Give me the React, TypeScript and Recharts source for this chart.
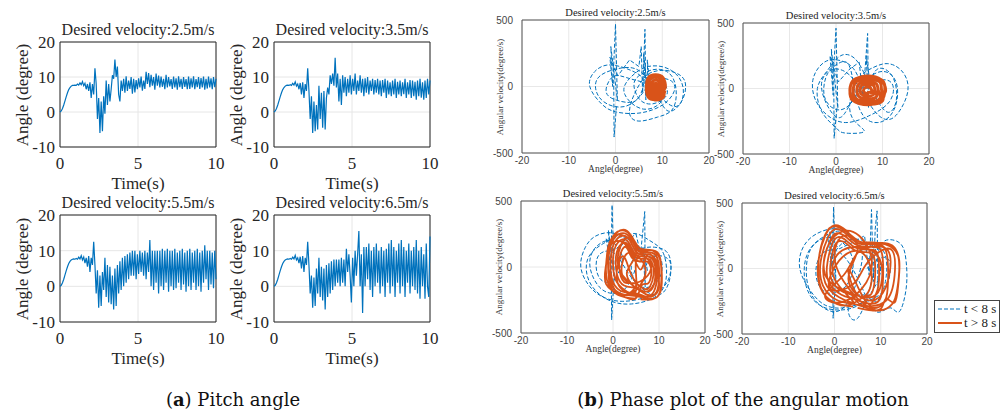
import { LineChart, Line, XAxis, YAxis, CartesianGrid, ReferenceArea } from 'recharts';

// pitch angle samples (degree), one every 0.08 s from 0 to 10 s
const SAMPLE_STEP = 0.08;

const pitch25 = [
  0, 0.3, 1.0, 2.0, 3.2, 4.4, 5.5, 6.4, 7.0, 7.4,
  7.6, 7.6, 7.7, 7.6, 8.0, 7.7, 8.3, 7.8, 8.7, 7.5,
  8.2, 6.5, 8.0, 6.0, 8.5, 4.0, 8.0, 5.0, 12.5, 8.0,
  -2.0, 4.0, -6.0, 3.0, -5.5, 4.5, -0.5, 9.0, 2.0, 8.0,
  3.0, 6.5, 10.5, 9.5, 15.0, 10.0, 13.0, 5.0, 3.0, 9.0,
  6.0, 9.5, 5.5, 10.2, 6.0, 9.0, 6.6, 10.0, 5.2, 9.5,
  5.6, 9.1, 6.5, 9.6, 7.0, 10.1, 6.1, 9.0, 6.6, 11.5,
  8.0, 11.1, 7.1, 10.6, 7.5, 10.0, 6.4, 11.0, 7.5, 10.4,
  7.0, 10.1, 7.2, 9.5, 6.5, 10.6, 7.0, 10.0, 7.3, 9.4,
  6.6, 10.1, 7.0, 9.6, 6.4, 10.2, 7.1, 9.5, 6.6, 10.0,
  7.2, 9.4, 6.5, 10.1, 6.6, 9.6, 7.0, 10.2, 6.5, 9.4,
  7.1, 10.0, 6.6, 9.7, 7.0, 10.1, 6.4, 9.5, 6.7, 10.1,
  7.0, 9.6, 6.5, 10.0, 7.1, 9.5,
];

const pitch35 = [
  0, 0.3, 1.0, 2.0, 3.2, 4.4, 5.5, 6.4, 7.0, 7.4,
  7.6, 7.7, 7.6, 7.8, 7.6, 8.2, 7.7, 8.6, 7.4, 8.0,
  6.5, 8.3, 5.0, 8.5, 4.0, 8.0, 6.0, 12.5, 6.0, -2.0,
  4.5, -6.0, 3.0, -5.5, 2.0, -5.0, 7.5, -2.0, 5.5, -4.5,
  6.0, -5.0, 4.0, 7.0, 5.0, 10.5, 8.0, 11.0, 7.5, 15.5,
  7.0, 11.0, 3.0, 9.5, 2.0, 10.5, 5.5, 10.0, 4.5, 9.5,
  5.5, 10.5, 5.0, 9.5, 6.0, 11.0, 5.0, 9.0, 6.0, 10.5,
  5.5, 9.5, 4.5, 9.6, 5.5, 10.0, 5.0, 9.0, 6.0, 9.5,
  5.0, 9.1, 5.5, 9.5, 5.0, 9.0, 4.5, 9.1, 5.5, 9.5,
  4.0, 9.0, 5.0, 8.5, 4.5, 9.0, 5.0, 9.5, 4.0, 8.6,
  5.0, 9.0, 4.5, 8.5, 5.1, 9.5, 4.0, 8.5, 5.0, 9.1,
  4.0, 9.0, 4.5, 8.6, 3.5, 9.0, 4.5, 9.5, 4.1, 8.5,
  3.5, 9.0, 4.0, 9.5, 5.0, 9.0,
];

const pitch55 = [
  0, 0.3, 1.0, 2.0, 3.2, 4.4, 5.5, 6.4, 7.0, 7.4,
  7.6, 7.7, 7.6, 7.8, 7.6, 8.2, 7.7, 8.6, 7.4, 8.2,
  6.5, 8.0, 5.5, 8.5, 4.0, 8.0, 6.0, 12.5, 6.0, -2.0,
  4.5, -6.0, 3.0, -5.5, 4.0, -1.0, 8.0, -3.0, 6.0, -4.5,
  5.5, -5.0, 3.0, -6.5, 5.0, -5.5, 6.0, -2.0, 7.0, -1.0,
  8.0, 0.0, 8.5, 1.0, 9.0, 2.0, 9.5, 3.0, 10.0, 3.0,
  10.0, 2.0, 9.0, 3.5, 10.0, 4.0, 9.5, 3.0, 10.0, 2.0,
  9.5, 4.0, 13.0, 0.0, 10.0, -1.0, 10.0, 1.0, 10.0, -2.0,
  10.0, 0.0, 10.5, -1.0, 10.0, 1.0, 10.5, -1.5, 10.0, 0.0,
  10.0, -1.0, 10.5, -0.5, 9.5, 1.0, 10.0, -1.0, 10.5, 0.5,
  9.5, -1.5, 10.0, 0.0, 10.5, -1.0, 9.5, 1.0, 10.0, -1.0,
  10.5, 0.0, 9.5, -1.5, 10.0, 1.0, 11.5, 2.0, 10.0, -1.0,
  10.0, 0.5, 9.5, -0.5, 10.0, 2.0,
];

const pitch65 = [
  0, 0.3, 1.0, 2.0, 3.2, 4.4, 5.5, 6.4, 7.0, 7.4,
  7.6, 7.7, 7.6, 7.8, 7.6, 8.2, 7.7, 8.7, 7.4, 8.0,
  6.5, 8.3, 5.0, 8.5, 4.0, 8.0, 6.0, 12.5, 6.0, -2.0,
  3.0, -6.0, 2.5, -5.5, 5.0, -2.0, 8.0, -3.0, 5.5, -4.0,
  5.0, -6.5, 6.0, -3.0, 6.5, -2.0, 7.0, -1.0, 7.5, 0.0,
  7.5, 1.0, 7.5, 0.0, 8.0, 1.0, 7.5, 0.0, 10.5, 4.0,
  9.0, 3.0, -4.5, 8.0, 0.0, 10.0, 3.0, 9.0, 15.5, 0.0,
  9.0, -7.5, 11.0, 0.0, 11.0, 2.0, 12.0, -1.0, 10.0, -3.0,
  11.0, 0.0, 12.0, 1.0, 10.0, -2.0, 11.0, 0.0, 10.0, -3.0,
  10.5, 1.0, 12.0, -2.0, 13.0, 0.0, 11.0, -3.0, 10.0, 1.0,
  12.0, -2.0, 13.0, 0.0, 11.0, -3.0, 10.0, 1.0, 12.0, -2.0,
  10.0, 0.0, 11.0, -1.0, 13.0, -2.0, 10.0, -3.5, 11.0, 0.0,
  9.0, -3.5, 12.0, 0.0, -3.0, 14.0,
];

// phase trajectories: [angle (degree), angular velocity (degree/s)]
// t < 8 s is split into the smooth loops and the sharp vertical spikes
const loops25: [number, number][] = [
  [7.5, 0], [9, 60], [12, 40], [12.5, -40], [10, -140], [5, -200], [0, -190], [-3, -130], [-5.5, 0], [-4.5, 110],
  [-2, 160], [1, 150], [4, 110], [6, 40], [5, -80], [3, -120], [0, -100], [-2, -40], [-1, 60], [1, 80],
  [4, 50], [8, -20], [11, -180], [14, -120], [15, 0], [14, 80], [11, 120], [8, 110], [6, 60], [4, -60],
  [3, -200], [5, -260], [9, -230], [12, -180], [13, -60], [12, 80], [9, 130], [6, 100], [4, 30], [5, -90],
  [8, -130], [11, -60], [10, 40], [8, 60], [6, -40], [2, -150], [-3, -100], [-4, 50], [0, 130], [5, 120],
  [9, -50], [13, -150], [14.5, -20], [12, 120], [7, 150], [3, 60], [2, -60], [6, -170], [10, -100], [9, 20],
];
const spikes25: [number, number][] = [
  [0.2, -150], [-0.3, -380], [-0.4, 150], [0, 470], [0.4, -100], [-1, 300], [-0.6, 0], [-1.2, 220], [0.5, 80], [3, 200],
  [5, 150], [5.5, 300], [5.8, -50], [6.3, 430], [6.5, -100], [6, 250], [7, -60], [6.8, 200], [7.3, 20],
];
const late25: [number, number][] = [
  [10.6, 0], [10.2, 65], [8.6, 88], [7.0, 65], [6.6, -10], [7.0, -80], [8.6, -100], [10.3, -75],
  [10.2, -5], [9.8, 50], [8.6, 72], [7.3, 50], [7.0, -10], [7.4, -65], [8.6, -82], [9.9, -60],
  [9.8, -8], [9.5, 30], [8.6, 48], [7.7, 30], [7.4, -10], [7.7, -50], [8.6, -62], [9.5, -45],
  [9.4, -10], [9.1, 15], [8.6, 25], [8.1, 15], [7.8, -10], [8.1, -35], [8.6, -42], [9.1, -32],
  [9.0, -10], [8.6, 5], [8.2, -10], [8.6, -25], [9.0, -12],
  [10.5, -20], [10.4, 50], [9.2, 85], [7.6, 78], [6.7, 20], [6.8, -60], [8, -98], [9.8, -90], [10.6, -30],
];

const loops35: [number, number][] = [
  [6.5, 0], [9, 60], [12, 40], [11.5, -100], [7, -210], [2, -260], [-2, -200], [-4.5, -80], [-5, 60], [-3.5, 170],
  [-1, 220], [2, 200], [4, 140], [5, 20], [3, -120], [0, -160], [-2.5, -60], [-2, 100], [0, 150], [3, 100],
  [6, -50], [9, -200], [12, -230], [14.5, -120], [15.5, 20], [14, 140], [11, 190], [8, 160], [5, 80], [3, -100],
  [4, -250], [6, -330], [2, -340], [0, -300], [-3, -180], [-4, 0], [-2, 130], [1, 250], [4, 230], [6, 120],
  [8, -30], [11, -180], [13, -80], [12, 100], [9, 150], [7, 50], [4, -60], [1, -220], [-2, -120], [-3, 60],
  [0, 180], [3, 160], [5, -150], [9, -260], [12.5, -160], [13, 40], [10, 130], [6, 60],
];
const spikes35: [number, number][] = [
  [0.2, -150], [-0.4, -380], [-0.5, 150], [0, 460], [0.4, -150], [-1, 300], [-0.6, -50], [-1.3, 250], [0.5, 50], [3, 150],
  [5, 200], [5.8, -80], [6.8, 420], [7, -150], [6.5, 250], [7.5, 0],
];
const late35: [number, number][] = [
  [10.5, -10], [10, 60], [7, 90], [3.8, 65], [3, -15], [3.6, -90], [6.8, -120], [10, -95],
  [9.8, -12], [9.4, 50], [6.8, 72], [4.3, 50], [3.7, -15], [4.2, -75], [6.8, -100], [9.4, -78],
  [9.1, -15], [8.7, 35], [6.8, 52], [4.9, 35], [4.5, -15], [4.9, -60], [6.8, -80], [8.7, -62],
  [8.4, -15], [8.1, 22], [6.8, 32], [5.5, 22], [5.2, -15], [5.5, -45], [6.8, -58], [8.1, -45],
  [7.7, -15], [7.4, 5], [6.8, 12], [6.2, 5], [5.9, -15], [6.2, -32], [6.8, -38], [7.4, -30],
  [10.2, -40], [10.4, 30], [8.5, 88], [5, 85], [3.2, 30], [3.2, -60], [5, -115], [8.5, -115], [10.3, -60], [10.5, 0],
];

const loops55: [number, number][] = [
  [7, 0], [9, 80], [12, 60], [12.5, -40], [11, -150], [7, -230], [2, -260], [-2, -230], [-5, -150], [-7, 0],
  [-6, 150], [-4, 230], [-1, 260], [2, 230], [4, 150], [5, 20], [3, -150], [0, -200], [-3, -150], [-5, 0],
  [-4, 140], [-1, 200], [1, 150], [2, 50], [0, -100], [-3, -80], [-3.5, 60], [-1.5, 120], [1, 80], [4, -80],
  [8, -200], [11, -190], [12.5, -60], [12, 100], [9, 150], [6, 130], [4, 20], [5, -120], [8, -150], [10.5, -50],
  [10, 80], [7, 90], [3, 220], [-2, 180], [-5.5, 60], [-5, -120], [-1, -250], [4, -280], [9, -230], [11.5, -100],
  [11, 100], [8, 200], [4, 250], [1, 100],
];
const spikes55: [number, number][] = [
  [0.2, -100], [-0.3, -400], [-0.4, 100], [-0.2, 470], [0.3, -100], [-1, 280], [-0.5, 0], [-1.5, 220], [0, 120], [3, 200],
  [5, 250], [6, 100], [6.9, 420], [7, -150], [6.5, 150], [7.5, -30],
];
const late55: [number, number][] = [
  [5, -240], [1, -210], [-1.3, -100], [-1.4, 60], [-0.5, 200], [1.5, 275], [3.8, 240], [5.3, 140], [6.5, 125], [8.5, 125],
  [10.2, 60], [10.5, -100], [9.8, -220], [7.5, -240],
  [5, -220], [1.3, -195], [-0.8, -90], [-1, 60], [-0.2, 190], [1.7, 255], [3.7, 225], [5.2, 130], [6.6, 110], [8.4, 108],
  [9.8, 50], [10, -90], [9.3, -200], [7.3, -225],
  [5, -200], [1.6, -180], [-0.3, -80], [-0.5, 60], [0.2, 175], [1.9, 235], [3.6, 205], [5.0, 115], [6.6, 95], [8.2, 92],
  [9.4, 40], [9.6, -80], [8.9, -185], [7.1, -205],
  [3, -100], [1, 50], [3, 220], [5, 100], [3, -50], [6, -180], [9, -120], [9.5, 80], [7, 115], [4, 200],
  [0, 230], [-1, 0], [0, -180], [4, -200], [7, -60], [6, 60], [3, 100], [2, -60], [5, -120], [8, -40],
  [7.5, 60], [5, 40],
  [5, -180], [2, -160], [0.3, -70], [0, 60], [0.6, 160], [2.1, 210], [3.5, 180], [4.8, 100], [6.6, 80], [8, 75],
  [9, 30], [9.2, -70], [8.5, -165], [6.9, -185],
  [5, -160], [2.4, -140], [0.9, -60], [0.6, 55], [1.1, 140], [2.3, 185], [3.4, 160], [4.6, 85], [6.5, 62], [7.8, 60],
  [8.6, 20], [8.8, -60], [8.1, -145], [6.7, -165],
  [4, -60], [2, 80], [1, -120], [6, -220], [10, -150], [8, 100], [6, -20], [3, 160], [-1, 120], [1, -200],
  [5, -140], [2.8, -120], [1.5, -40], [1.4, 60], [2.4, 150], [3.4, 120], [4.4, 60], [6.4, 40], [7.5, 40], [8.2, 0],
  [8.3, -60], [7.6, -125], [6.2, -140],
  [5, -235], [2, -220], [-1.5, -130], [-1.5, 20], [-1, 160], [0.8, 260], [3, 275], [4.8, 190], [6, 140], [8, 130],
  [9.9, 100], [10.6, -40], [10.3, -190], [8.5, -245], [6, -245],
];

const loops65: [number, number][] = [
  [7, 0], [10, 80], [12, 40], [11, -150], [7, -250], [2, -300], [-2, -280], [-5, -180], [-7.5, 0], [-6.5, 180],
  [-3, 280], [1, 300], [4, 230], [6, 120], [5, -80], [3, -250], [0, -330], [-4, -250], [-6, -80], [-5.5, 120],
  [-3, 220], [0, 230], [3, 150], [4, 0], [2, -150], [-2, -180], [-4, -50], [-3, 100], [0, 140], [3, 50],
  [6, -150], [9, -330], [12, -300], [14, -330], [15.5, -150], [15.5, 50], [14.5, 180], [12, 220], [10, 180], [9, 60],
  [8, -100], [5, -380], [3, -300], [6, -200], [9, -250], [11, -100], [11, 100], [9, 150], [7, 80], [3, 260],
  [-2, 250], [-6, 100], [-6, -150], [-2, -300], [4, -300], [8, -180], [10, 20], [7, 200], [2, 200], [-1, 50],
];
const spikes65: [number, number][] = [
  [0.2, -100], [-0.3, -380], [-0.4, 100], [-0.2, 470], [0.3, -100], [-1, 280], [-0.5, 0], [-1.5, 250], [1, 150], [4, 200],
  [6.5, 250], [7.5, -50], [8, 450], [8.4, -100], [8.8, 300], [9.2, 440], [9.4, -150], [10, 50],
];
const late65: [number, number][] = [
  [4, -290], [0, -260], [-3, -150], [-3.5, 50], [-2, 250], [0, 330], [2.5, 290], [5, 210], [8, 200], [11, 185],
  [13.8, 90], [13.6, -150], [12.5, -270], [10, -320], [7, -300],
  [4, -270], [0.5, -240], [-2.5, -130], [-3, 50], [-1.5, 230], [0.2, 300], [2.5, 265], [5, 195], [8, 185], [10.5, 170],
  [11.5, 60], [11.5, -150], [10.5, -270], [7, -285],
  [2, -100], [0, 100], [2, 250], [5, 150], [3, -80], [7, -240], [11, -150], [12, 100], [9, 170], [5, 120],
  [2, -50], [-2, -200], [1, -260], [6, -150], [8, 80], [4, 280], [-1, 200], [-2, -50], [3, -180], [9, -200],
  [10, 50], [6, 160], [1, 120], [0, -80],
  [4, -250], [1, -220], [-2, -110], [-2.3, 50], [-1, 210], [0.5, 270], [2.5, 240], [4.8, 180], [7.5, 165], [9.8, 150],
  [10.5, 40], [10.4, -140], [9.5, -250], [7, -265],
  [4, -230], [1.5, -200], [-1.3, -100], [-1.5, 50], [-0.5, 190], [0.8, 240], [2.5, 215], [4.5, 160], [7, 145], [9, 130],
  [9.6, 30], [9.5, -130], [8.6, -225], [6.6, -245],
  [3, 0], [5, -200], [8, -100], [6, 120], [1, 60], [-1, -150], [4, -120], [7, 40], [12, 150], [13, -50],
  [11, -250], [6, -280],
  [4, -210], [2, -180], [-0.6, -90], [-0.8, 50], [0, 170], [1.1, 210], [2.6, 190], [4.3, 140], [6.5, 125], [8.2, 110],
  [8.8, 20], [8.6, -120], [7.8, -200], [6.2, -220],
  [3, -280], [-1, -240], [-3.3, -100], [-3.2, 120], [-1.5, 290], [0.5, 320], [3, 270], [6, 195], [9.5, 195], [12.5, 175],
  [14, 60], [13.8, -120], [13, -260], [11.2, -230], [10.2, -300], [8, -320], [5, -300],
];

const timeTicks = [0, 5, 10];
const angleTicks = [-10, 0, 10, 20];
const phaseAngleTicks = [-20, -10, 0, 10, 20];
const phaseRateTicks = [-500, 0, 500];

const BLUE = '#0072BD';
const ORANGE = '#D95319';
const SERIF = '"Liberation Serif", "Times New Roman", serif';
const SANS = '"Liberation Sans", Arial, sans-serif';

function Txt({ x, y, size, family = SERIF, rotate = 0, color = '#262626', children }: any) {
  return (
    <div
      style={{
        position: 'absolute',
        left: x,
        top: y,
        transform: `translate(-50%, -50%) rotate(${rotate}deg)`,
        fontSize: size,
        fontFamily: family,
        color,
        whiteSpace: 'nowrap',
        lineHeight: 1,
      }}
    >
      {children}
    </div>
  );
}

function PitchPanel({ x, y, w, h, title, values }: any) {
  const rows = values.map((v: number, i: number) => ({ t: i * SAMPLE_STEP, v }));
  const yw = 40;
  const mt = 12;
  const mr = 14;
  const xh = 26;
  const tick = { fontSize: 17, fontFamily: SERIF, fill: '#262626' };
  return (
    <>
      <div style={{ position: 'absolute', left: x - yw, top: y - mt }}>
        <LineChart width={yw + w + mr} height={mt + h + xh} data={rows} margin={{ top: mt, right: mr, left: 0, bottom: 0 }}>
          <CartesianGrid stroke="#e6e6e6" />
          <XAxis dataKey="t" type="number" domain={[0, 10]} ticks={timeTicks} height={xh}
            axisLine={false} tickLine={false} tickSize={6} tickMargin={4} tick={tick} interval={0} />
          <YAxis type="number" domain={[-10, 20]} ticks={angleTicks} width={yw}
            axisLine={false} tickLine={false} tickSize={3} tickMargin={2} tick={tick} interval={0} />
          <Line dataKey="v" stroke={BLUE} strokeWidth={1.2} dot={false} activeDot={false} isAnimationActive={false} />
          <ReferenceArea x1={0} x2={10} y1={-10} y2={20} fill="none" stroke="#262626" strokeWidth={1} />
        </LineChart>
      </div>
      <Txt x={x + w / 2} y={y - 12} size={16}>{title}</Txt>
      <Txt x={x - 38} y={y + h / 2} size={17} rotate={-90}>Angle (degree)</Txt>
      <Txt x={x + w / 2} y={y + h + 36} size={17}>Time(s)</Txt>
    </>
  );
}

const toRows = (pts: [number, number][]) => pts.map(([a, r]) => ({ a, r }));

function PhasePanel({ x, y, w, h, title, loops, spikes, late, lateWidth }: any) {
  const yw = 38;
  const mt = 8;
  const mr = 12;
  const xh = 14;
  const tick = { fontSize: 10, fontFamily: SANS, fill: '#444' };
  return (
    <>
      <div style={{ position: 'absolute', left: x - yw, top: y - mt }}>
        <LineChart width={yw + w + mr} height={mt + h + xh} margin={{ top: mt, right: mr, left: 0, bottom: 0 }}>
          <CartesianGrid stroke="#e8e8e8" />
          <XAxis dataKey="a" type="number" domain={[-20, 20]} ticks={phaseAngleTicks} height={xh}
            axisLine={false} tickLine={false} tickSize={2} tickMargin={1.5} tick={tick} interval={0} />
          <YAxis type="number" domain={[-500, 500]} ticks={phaseRateTicks} width={yw}
            axisLine={false} tickLine={false} tickSize={4} tickMargin={5} tick={tick} interval={0} />
          <Line data={toRows(loops)} dataKey="r" type="natural" stroke={BLUE} strokeWidth={1} strokeDasharray="4 2"
            dot={false} activeDot={false} isAnimationActive={false} />
          <Line data={toRows(spikes)} dataKey="r" stroke={BLUE} strokeWidth={1} strokeDasharray="4 2"
            dot={false} activeDot={false} isAnimationActive={false} />
          <Line data={toRows(late)} dataKey="r" type="natural" stroke={ORANGE} strokeWidth={lateWidth}
            dot={false} activeDot={false} isAnimationActive={false} />
          <ReferenceArea x1={-20} x2={20} y1={-500} y2={500} fill="none" stroke="#555" strokeWidth={1} />
        </LineChart>
      </div>
      <Txt x={x + w / 2} y={y - 7} size={10.5} color="#222">{title}</Txt>
      <Txt x={x - 22} y={y + h / 2} size={9} rotate={-90} color="#333">Angular velocity(degree/s)</Txt>
      <Txt x={x + w / 2} y={y + h + 17} size={9.5} color="#333">Angle(degree)</Txt>
    </>
  );
}

function LegendBox() {
  const row = (dash: string | undefined, color: string, width: number, label: string) => (
    <div style={{ display: 'flex', alignItems: 'center', height: 14 }}>
      <svg width={26} height={10} style={{ marginLeft: 2 }}>
        <line x1={1} y1={5} x2={25} y2={5} stroke={color} strokeWidth={width} strokeDasharray={dash} />
      </svg>
      <span style={{ fontFamily: SERIF, fontSize: 13, color: '#222', marginLeft: 1 }}>{label}</span>
    </div>
  );
  return (
    <div style={{ position: 'absolute', left: 934, top: 300, width: 64, height: 30, border: '1px solid #444', background: '#fff', paddingTop: 1 }}>
      {row('4 2', BLUE, 1.2, 't < 8 s')}
      {row(undefined, ORANGE, 2, 't > 8 s')}
    </div>
  );
}

export default function App() {
  return (
    <div style={{ position: 'absolute', left: 0, top: 0, width: 1005, height: 415, background: '#fff', overflow: 'hidden' }}>
      <PitchPanel x={60} y={42} w={156} h={105} title="Desired velocity:2.5m/s" values={pitch25} />
      <PitchPanel x={274} y={42} w={156} h={105} title="Desired velocity:3.5m/s" values={pitch35} />
      <PitchPanel x={60} y={215} w={156} h={107} title="Desired velocity:5.5m/s" values={pitch55} />
      <PitchPanel x={274} y={215} w={156} h={107} title="Desired velocity:6.5m/s" values={pitch65} />

      <PhasePanel x={522} y={20} w={187} h={133} title="Desired velocity:2.5m/s" loops={loops25} spikes={spikes25} late={late25} lateWidth={3} />
      <PhasePanel x={743} y={23} w={186} h={131} title="Desired velocity:3.5m/s" loops={loops35} spikes={spikes35} late={late35} lateWidth={3} />
      <PhasePanel x={521} y={201} w={184} h={132} title="Desired velocity:5.5m/s" loops={loops55} spikes={spikes55} late={late55} lateWidth={1.8} />
      <PhasePanel x={742} y={203} w={185} h={131} title="Desired velocity:6.5m/s" loops={loops65} spikes={spikes65} late={late65} lateWidth={1.8} />

      <LegendBox />

      <Txt x={233} y={400} size={18} family='"DejaVu Serif", serif' color="#111">(<b>a</b>) Pitch angle</Txt>
      <Txt x={743} y={400} size={18} family='"DejaVu Serif", serif' color="#111">(<b>b</b>) Phase plot of the angular motion</Txt>
    </div>
  );
}
